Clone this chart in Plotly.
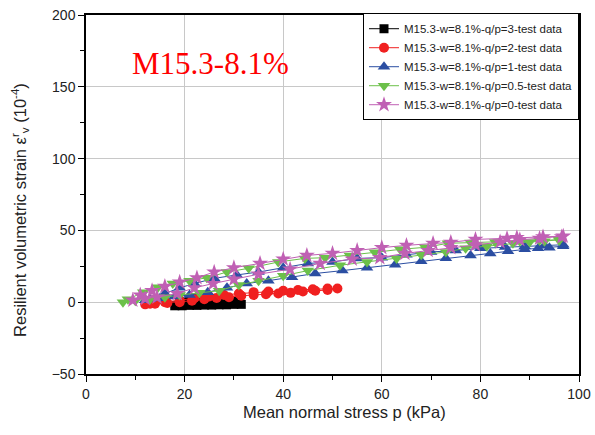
import plotly.graph_objects as go

# Loading / unloading paths for each stress ratio q/p (p in kPa, strain in 1e-4)
p_q3_load = [18, 19.5, 21, 22.5, 24, 25.5, 27, 28.5, 30, 31.5]
e_q3_load = [-2.5, -2.5, -2.2, -2.2, -2, -2, -1.8, -1.8, -1.5, -1.5]
p_q3_unload = [30, 28.5, 27, 25.5, 24, 22.5, 21, 19.5]
e_q3_unload = [0.5, 1, 1.5, 1.5, 1.5, 1, 0.5, 0]

p_q2_load = [12, 14, 16.5, 19, 21.5, 24, 26.5, 29, 31.5, 34, 36.5, 39, 41.5, 44, 46.5, 49, 51]
e_q2_load = [-1.5, -1, -0.5, 0, 1, 2, 3, 3.5, 4.5, 5, 5.5, 6, 6.5, 7.5, 8, 8.5, 9.5]
p_q2_unload = [49, 46, 43, 40, 37, 34, 31, 28, 25, 22, 19, 16, 13]
e_q2_unload = [9.5, 9, 8.5, 8, 7.5, 7, 6, 5, 4, 3, 1.5, 0, -1]

p_q1_load = [12, 15, 18, 21, 24.7, 28.6, 32.6, 37, 41.8, 46.5, 52, 57, 62.7, 68, 73, 78, 82, 85.6, 89, 91.7, 94, 96.8]
e_q1_load = [1.4, 2.8, 4, 5, 7, 10, 13, 15, 17.4, 20, 22, 24, 26, 28.5, 30.6, 32.6, 34, 35.4, 36.8, 37.5, 38, 39]
p_q1_unload = [96.8, 93, 89, 85, 80, 75, 70, 65, 60, 55, 50, 45, 40, 35, 30.6, 26, 22, 19, 16, 13]
e_q1_unload = [40, 39.5, 39, 38.5, 37.5, 36, 35, 33, 31, 30.5, 28, 27, 24, 21, 19, 16.6, 13, 10, 6, 2]

p_q05_load = [7.5, 10, 13, 16, 19, 23, 27, 31, 35, 40, 45, 51.5, 57, 63, 68, 73, 77, 81.3, 86.6, 90, 93, 96]
e_q05_load = [0, 1, 2, 3.5, 5, 6.5, 8, 12, 15, 18.5, 22, 25.7, 28, 30.5, 33, 35, 37.5, 39, 41, 42, 42.5, 43]
p_q05_unload = [96, 92, 88, 83, 78, 73.4, 68.8, 63.7, 58.6, 53.5, 48.5, 44.4, 39, 33, 28.6, 24.5, 21, 17.6, 14.6, 11.6, 8.5]
e_q05_unload = [43.5, 43, 42.5, 42, 41.5, 41, 38.2, 36.8, 34.7, 32.6, 31, 30.5, 28, 23.6, 21, 17, 15, 13, 10.4, 7, 2]

p_q0_load = [9.5, 12, 14.4, 18.5, 22, 25.8, 30, 35, 41.4, 47.5, 54, 59.6, 64.7, 69.4, 74, 79, 84, 88, 92, 96.5]
e_q0_load = [1.4, 2.5, 3.5, 6, 10, 13, 16, 19.5, 23, 27, 30, 31, 34, 36, 38, 40, 42, 43.5, 44.5, 45.5]
p_q0_unload = [96.8, 92.7, 87.4, 85.4, 79, 74, 70.4, 65, 60, 55, 50, 44.8, 40, 35.3, 30, 26, 22.5, 19, 16, 13.4, 11]
e_q0_unload = [46, 45.5, 45, 44.5, 43.7, 41.7, 41, 39.6, 38, 36, 34, 32.6, 30, 27, 24, 21, 17, 14, 11, 8, 5]

series = [
    ("M15.3-w=8.1%-q/p=3-test data", p_q3_load + p_q3_unload, e_q3_load + e_q3_unload, "#000000", "square", 9),
    ("M15.3-w=8.1%-q/p=2-test data", p_q2_load + p_q2_unload, e_q2_load + e_q2_unload, "#f02020", "circle", 10),
    ("M15.3-w=8.1%-q/p=1-test data", p_q1_load + p_q1_unload, e_q1_load + e_q1_unload, "#2b4ea2", "triangle-up", 11),
    ("M15.3-w=8.1%-q/p=0.5-test data", p_q05_load + p_q05_unload, e_q05_load + e_q05_unload, "#6cc04a", "triangle-down", 11),
    ("M15.3-w=8.1%-q/p=0-test data", p_q0_load + p_q0_unload, e_q0_load + e_q0_unload, "#c060b4", "star", 12),
]

x_title = "Mean normal stress p (kPa)"
y_title = "Resilient volumetric strain ε<sup>r</sup><sub>v</sub> (10<sup>-4</sup>)"
panel_label = "M15.3-8.1%"

fig = go.Figure()
for name, px, ey, color, symbol, size in series:
    fig.add_trace(go.Scatter(
        x=px, y=ey, name=name, mode="lines+markers",
        line=dict(color=color, width=1),
        marker=dict(symbol=symbol, size=size, color=color, line=dict(width=0)),
    ))

title_font = dict(family="Liberation Sans", size=16.5, color="#222222")

# panel label and axis titles
fig.add_annotation(
    text=panel_label, x=0.252, y=0.866, xref="paper", yref="paper",
    xanchor="center", yanchor="middle",
    showarrow=False, font=dict(family="Liberation Serif", size=31, color="#ff0000"),
)
fig.add_annotation(
    text=x_title, x=0.525, y=0, xref="paper", yref="paper",
    xanchor="center", yanchor="top", yshift=-27,
    showarrow=False, font=title_font,
)
fig.add_annotation(
    text=y_title, x=0, y=0.457, xref="paper", yref="paper",
    xanchor="center", yanchor="middle", xshift=-66, textangle=-90,
    showarrow=False, font=title_font,
)

axis_common = dict(
    automargin=False,
    showline=True, linecolor="#000000", linewidth=1.5, mirror=True,
    ticks="outside", ticklen=6, tickcolor="#000000",
    showgrid=True, gridcolor="#c8c8c8", gridwidth=1,
    zeroline=False,
    tickfont=dict(family="Liberation Sans", size=14, color="#222222"),
)

fig.update_xaxes(
    range=[0, 100], dtick=20,
    minor=dict(dtick=10, ticks="outside", ticklen=4, tickcolor="#000000", showgrid=False),
    **axis_common,
)
fig.update_yaxes(
    range=[-50, 200], dtick=50,
    minor=dict(dtick=25, ticks="outside", ticklen=4, tickcolor="#000000", showgrid=False),
    **axis_common,
)

fig.update_layout(
    width=595, height=435,
    margin=dict(l=86, r=16, t=15, b=61),
    paper_bgcolor="#ffffff", plot_bgcolor="#ffffff",
    legend=dict(
        x=1.0, xanchor="right", y=1.005, yanchor="top",
        bgcolor="#ffffff", bordercolor="#000000", borderwidth=1,
        font=dict(family="Liberation Sans", size=11.5, color="#222222"),
        tracegroupgap=0, itemwidth=30,
    ),
    showlegend=True,
)

fig.write_html("out.html")
